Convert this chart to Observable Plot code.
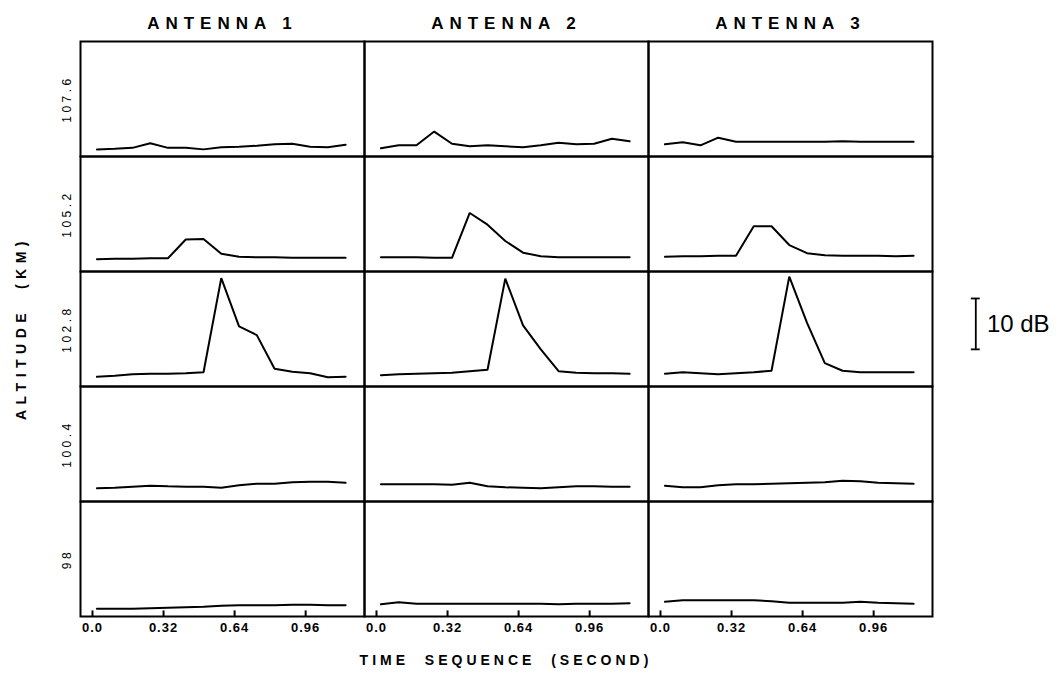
<!DOCTYPE html>
<html>
<head>
<meta charset="utf-8">
<script src="https://cdn.jsdelivr.net/npm/d3@7"></script>
<script src="https://cdn.jsdelivr.net/npm/@observablehq/plot@0.6"></script>
<style>
  html, body { margin: 0; padding: 0; background: #fff; }
  #chart svg { display: block; }
  g[aria-label="fx-axis tick label"] text { letter-spacing: 6px; }
  g[aria-label="fy-axis tick label"] text { letter-spacing: 3.5px; }
  g[aria-label="x-axis tick label"] text { letter-spacing: 1px; }
</style>
</head>
<body>
<div id="chart"></div>
<script>
// ---- data ----
const antennas = ["ANTENNA 1", "ANTENNA 2", "ANTENNA 3"];
const altitudes = ["107.6", "105.2", "102.8", "100.4", "98"];
const times = [0.02, 0.10, 0.18, 0.26, 0.34, 0.42, 0.50, 0.58, 0.66, 0.74, 0.82, 0.90, 0.98, 1.06, 1.14];
const tickValues = [0, 0.32, 0.64, 0.96];
const tickLabels = ["0.0", "0.32", "0.64", "0.96"];

// relative echo power (dB above panel floor), one row per altitude (top to bottom)
const antenna1 = [
  [1.4, 1.5, 1.7, 2.6, 1.7, 1.7, 1.4, 1.8, 1.9, 2.1, 2.4, 2.5, 1.9, 1.8, 2.3],
  [2.4, 2.5, 2.5, 2.6, 2.6, 6.3, 6.4, 3.5, 2.9, 2.8, 2.8, 2.7, 2.7, 2.7, 2.7],
  [1.9, 2.1, 2.4, 2.5, 2.5, 2.6, 2.8, 21.3, 11.8, 10.1, 3.5, 2.9, 2.6, 1.8, 1.9],
  [2.6, 2.7, 2.9, 3.1, 3.0, 2.9, 2.9, 2.7, 3.2, 3.5, 3.5, 3.8, 3.9, 3.9, 3.7],
  [1.5, 1.5, 1.5, 1.6, 1.7, 1.8, 1.9, 2.1, 2.2, 2.2, 2.2, 2.3, 2.3, 2.2, 2.2]
];
const antenna2 = [
  [1.6, 2.2, 2.2, 4.9, 2.5, 2.0, 2.2, 2.0, 1.8, 2.2, 2.7, 2.4, 2.5, 3.5, 3.0],
  [2.8, 2.8, 2.8, 2.7, 2.7, 11.5, 9.2, 6.0, 3.7, 3.0, 2.8, 2.8, 2.8, 2.8, 2.8],
  [2.2, 2.4, 2.5, 2.6, 2.7, 3.0, 3.3, 21.2, 12.0, 7.3, 3.0, 2.7, 2.6, 2.6, 2.5],
  [3.4, 3.4, 3.4, 3.4, 3.3, 3.7, 3.0, 2.8, 2.7, 2.6, 2.8, 3.0, 3.0, 2.9, 2.9],
  [2.4, 2.8, 2.5, 2.5, 2.5, 2.5, 2.5, 2.5, 2.5, 2.5, 2.4, 2.5, 2.5, 2.5, 2.6]
];
const antenna3 = [
  [2.4, 2.8, 2.2, 3.7, 2.9, 2.9, 2.9, 2.9, 2.9, 2.9, 3.0, 2.9, 2.9, 2.9, 2.9],
  [2.9, 3.0, 3.0, 3.1, 3.1, 8.9, 8.9, 5.2, 3.6, 3.2, 3.1, 3.1, 3.1, 3.0, 3.1],
  [2.5, 2.8, 2.6, 2.4, 2.6, 2.8, 3.1, 21.6, 12.5, 4.6, 3.1, 2.8, 2.8, 2.8, 2.8],
  [3.1, 2.8, 2.8, 3.2, 3.4, 3.4, 3.5, 3.6, 3.7, 3.8, 4.1, 4.0, 3.7, 3.6, 3.5],
  [2.9, 3.2, 3.2, 3.2, 3.2, 3.2, 3.0, 2.7, 2.7, 2.7, 2.7, 2.9, 2.7, 2.6, 2.5]
];
// 10 dB scale bar (drawn beside the 102.8 km row)
const scaleBar = [{fx: "ANTENNA 3", fy: "102.8", x: 1.42, lo: 7.3, hi: 17.3, label: "10 dB"}];

// ---- build tidy table ----
const series = [antenna1, antenna2, antenna3];
const rows = [];
series.forEach((ant, ai) => ant.forEach((vals, ri) => vals.forEach((v, ti) => {
  rows.push({antenna: antennas[ai], alt: altitudes[ri], t: times[ti], db: v});
})));
const barEnds = scaleBar.flatMap(d => [{...d, y: d.lo}, {...d, y: d.hi}]);

const font = "'Liberation Sans', Arial, Helvetica, sans-serif";

const plot = Plot.plot({
  width: 1064,
  height: 673,
  marginLeft: 80,
  marginRight: 132,
  marginTop: 40,
  marginBottom: 56,
  style: {fontFamily: font, background: "#fff", color: "#000", overflow: "visible"},
  fx: {domain: antennas, padding: 0},
  fy: {domain: altitudes, padding: 0},
  x: {type: "linear", domain: [-0.054, 1.225]},
  y: {type: "linear", domain: [0, 22.6], axis: null},
  marks: [
    Plot.frame({stroke: "#000", strokeWidth: 2}),
    Plot.line(rows, {x: "t", y: "db", fx: "antenna", fy: "alt", stroke: "#000", strokeWidth: 2, strokeLinejoin: "miter"}),
    Plot.ruleX(tickValues, {x: d => d, y1: 0, y2: 1.1, fy: () => "98", stroke: "#000", strokeWidth: 2}),
    Plot.axisX({ticks: tickValues, tickFormat: d => tickLabels[tickValues.indexOf(d)], tickSize: 0, tickPadding: 6, fontSize: 13, fontWeight: "bold", label: null}),
    Plot.axisFx({anchor: "top", tickSize: 0, tickPadding: 13, fontSize: 17, fontWeight: "bold", label: null}),
    Plot.axisFy({anchor: "left", tickSize: 0, tickRotate: -90, tickPadding: 10, fontSize: 12, label: null}),
    Plot.ruleX(scaleBar, {x: "x", y1: "lo", y2: "hi", fx: "fx", fy: "fy", stroke: "#000", strokeWidth: 1.8}),
    Plot.ruleY(barEnds, {y: "y", x1: d => d.x - 0.02, x2: d => d.x + 0.02, fx: "fx", fy: "fy", stroke: "#000", strokeWidth: 1.8}),
    Plot.text(scaleBar, {x: d => d.x + 0.05, y: d => (d.lo + d.hi) / 2, text: "label", fx: "fx", fy: "fy", textAnchor: "start", fontSize: 24, fill: "#000"})
  ]
});

document.getElementById("chart").appendChild(plot);

// axis titles
const svg = d3.select(plot);
svg.append("text")
  .attr("transform", "translate(22,328) rotate(-90)")
  .attr("text-anchor", "middle")
  .attr("dominant-baseline", "middle")
  .style("font-family", font).style("font-weight", "bold").style("font-size", "14px")
  .style("letter-spacing", "5.5px")
  .text("ALTITUDE  (KM)");
svg.append("text")
  .attr("x", 506).attr("y", 661)
  .attr("text-anchor", "middle")
  .attr("dominant-baseline", "middle")
  .style("font-family", font).style("font-weight", "bold").style("font-size", "14px")
  .style("letter-spacing", "4px")
  .text("TIME  SEQUENCE  (SECOND)");
</script>
</body>
</html>
